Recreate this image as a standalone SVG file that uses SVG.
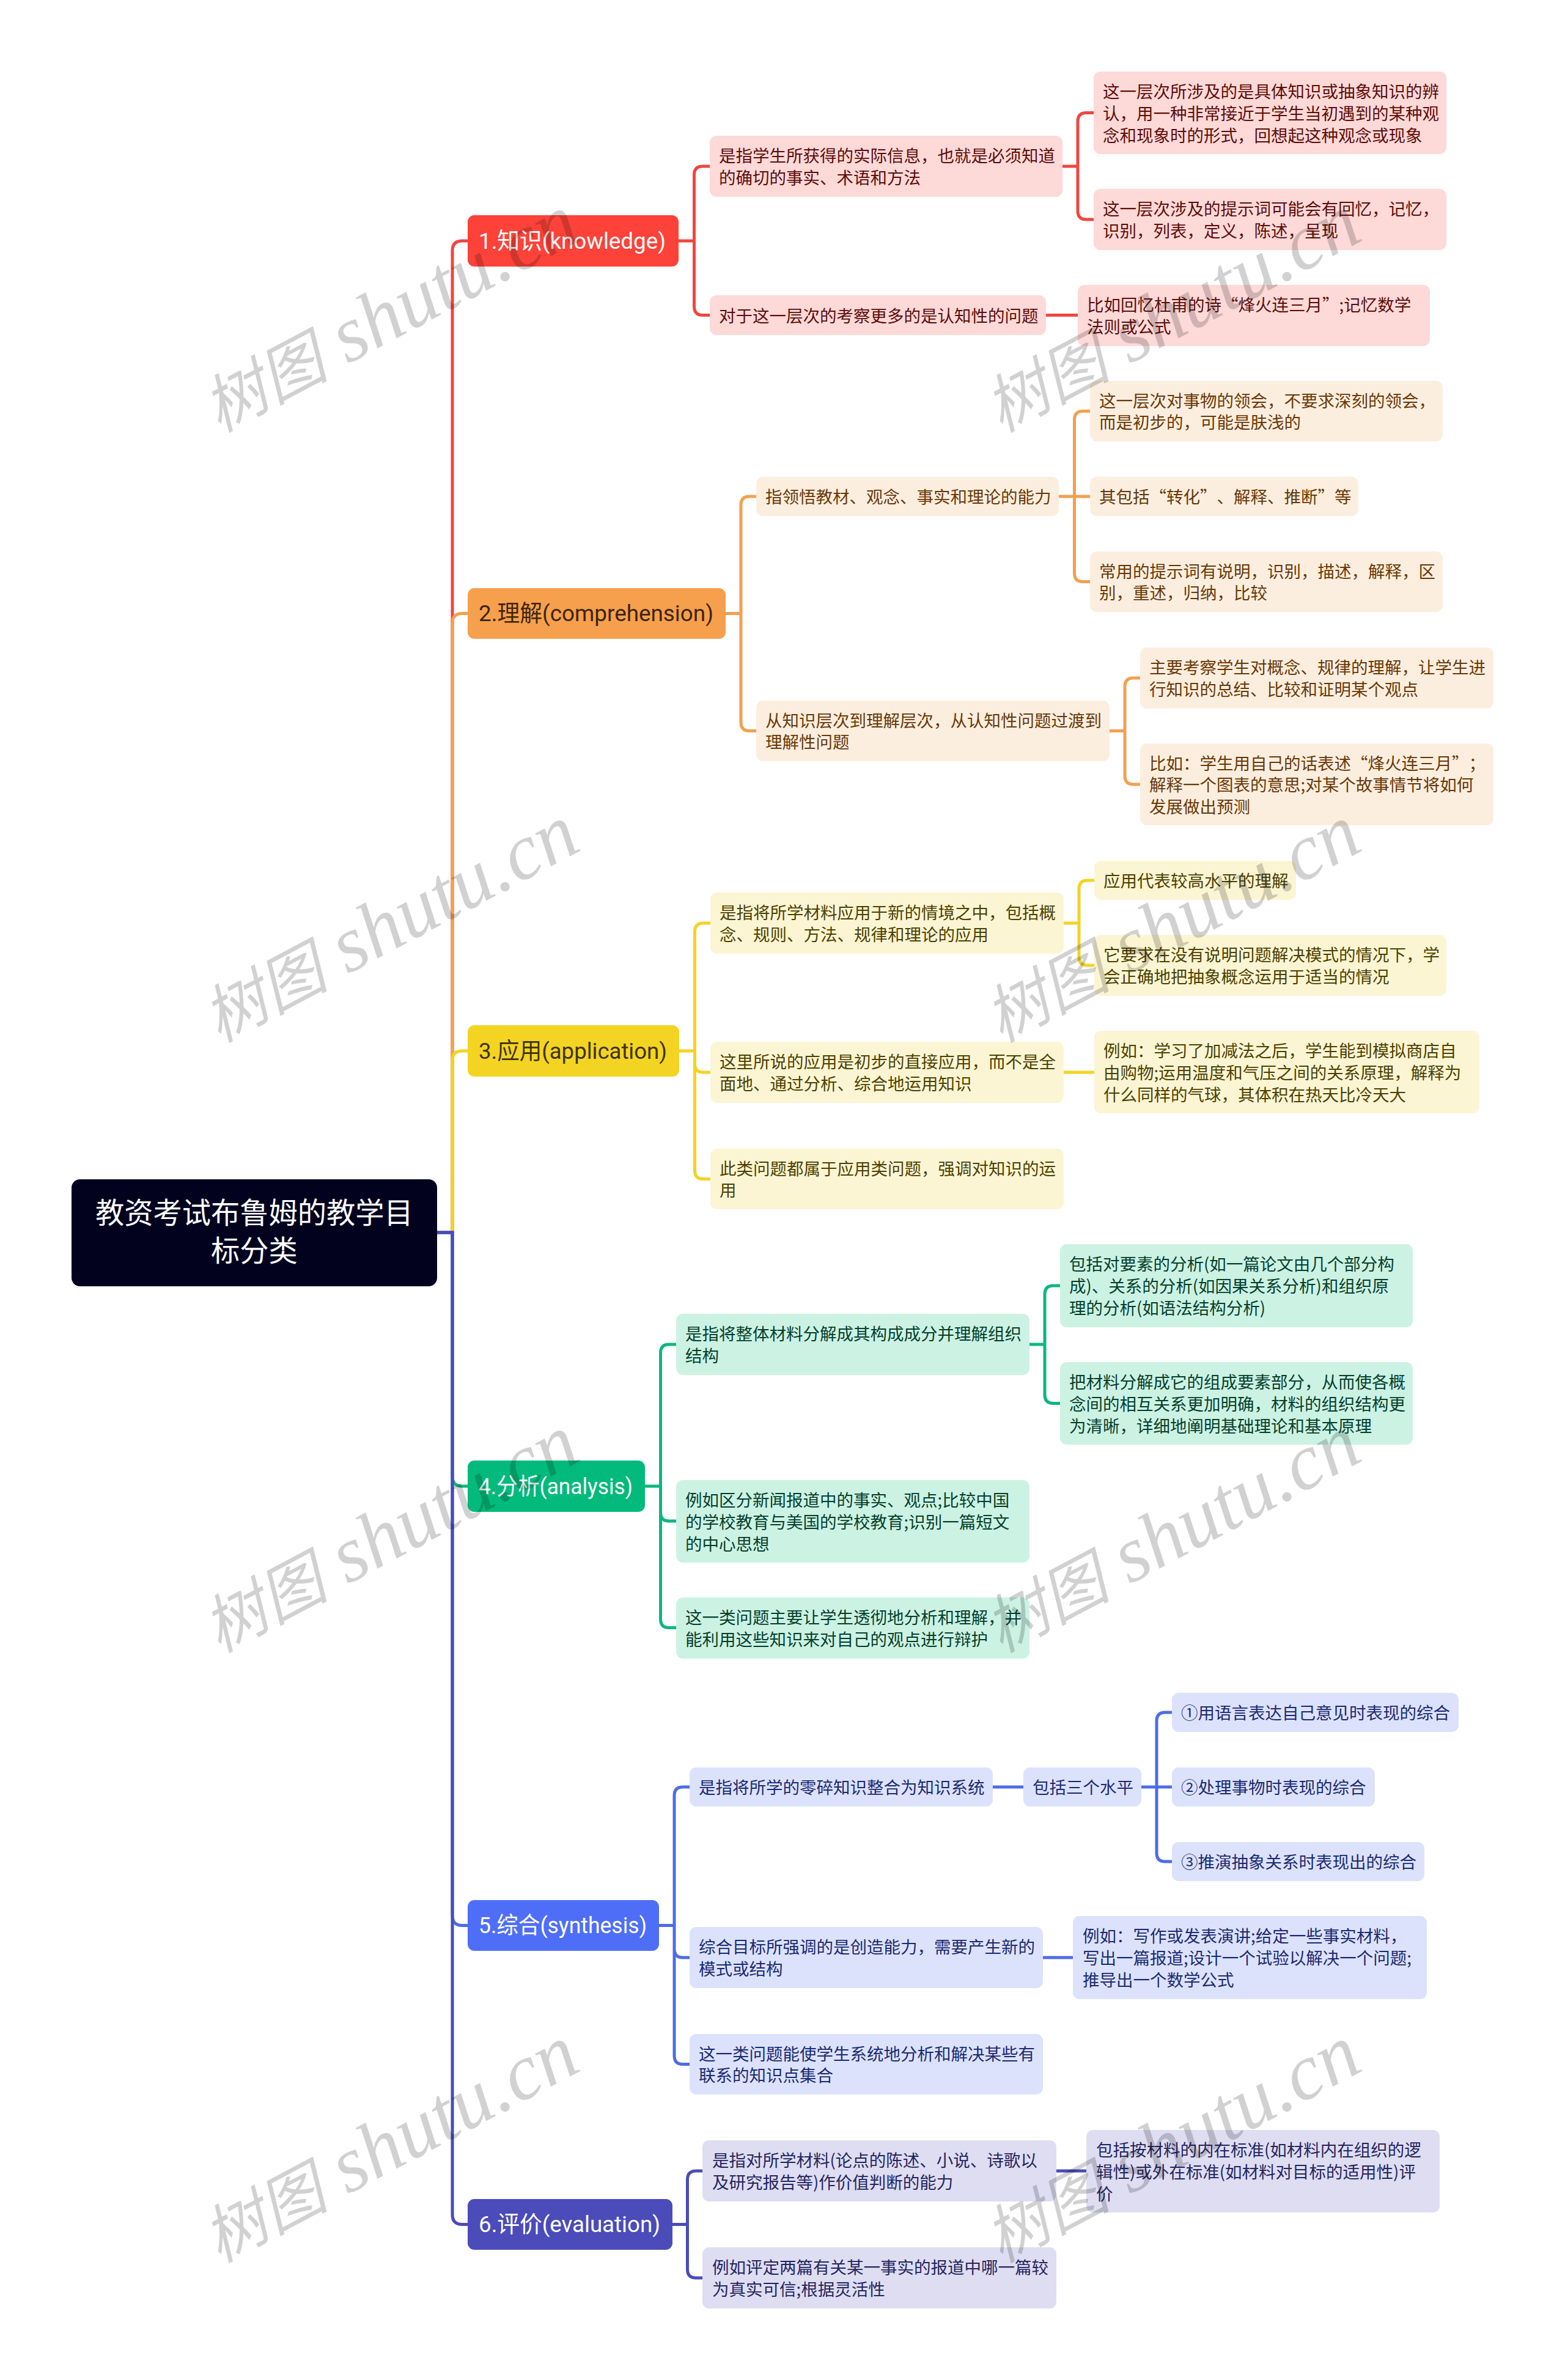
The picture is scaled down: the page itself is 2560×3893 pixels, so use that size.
<svg xmlns="http://www.w3.org/2000/svg" width="2560" height="3893" viewBox="0 0 2560 3893">
<style>
text{font-family:"Noto Sans CJK SC","Noto Sans",sans-serif;font-size:27.5px;text-spacing-trim:space-all}
g[id^="n"] text{transform:translate(0,1px)}
.root{font-size:47.25px;fill:#fff;text-anchor:middle}
g[id^="n"] text.l1{font-size:37.5px;font-family:Roboto,"Noto Sans CJK SC",sans-serif;transform:translate(-1px,-1px)}
rect{rx:11px;ry:11px}
path{fill:none}
.c1{stroke:#EF4640;stroke-width:5}.c2{stroke:#F3A04F;stroke-width:5}.c3{stroke:#F2D323;stroke-width:5}.c4{stroke:#0CB77C;stroke-width:5}.c5{stroke:#4E6CE8;stroke-width:5}.c6{stroke:#4B4BB8;stroke-width:5}
.k1{fill:#FC4239}.k2{fill:#F6A04D}.k3{fill:#F4D422}.k4{fill:#02BA7B}.k5{fill:#4F6EF7}.k6{fill:#4B4BBA}
.f1{fill:#FDD9D8}.f2{fill:#FCEEDF}.f3{fill:#FCF5D3}.f4{fill:#CCF2E4}.f5{fill:#DCE2FB}.f6{fill:#DEDDF2}
.w{fill:#fff}.d2{fill:#3F2509}.d3{fill:#3D3300}
.t1{fill:#5E0D09}.t2{fill:#693806}.t3{fill:#4C4100}.t4{fill:#043F2B}.t5{fill:#1B2A72}.t6{fill:#25255F}
.wm{font-family:"Liberation Serif","Noto Sans CJK SC",serif;font-style:italic;font-size:130px;fill:#000;fill-opacity:.18}
.wm .z{font-family:"Noto Sans CJK SC",serif;font-size:103px}
</style>
<g id="connectors">
<path class="c1" d="M715 2016H740V410Q740 394 756 394H765"/>
<path class="c2" d="M715 2016H740V1019.500Q740 1003.500 756 1003.500H765"/>
<path class="c3" d="M715 2016H740V1735Q740 1719 756 1719H765"/>
<path class="c4" d="M715 2016H740V2415Q740 2431 756 2431H765"/>
<path class="c5" d="M715 2016H740V3133.500Q740 3149.500 756 3149.500H765"/>
<path class="c6" d="M715 2016H740V3622.500Q740 3638.500 756 3638.500H765"/>
<path class="c1" d="M1110 394H1135.500V286Q1135.500 272 1149.500 272H1161M1110 394H1135.500V501.500Q1135.500 515.500 1149.500 515.500H1161M1738 272H1763V198.500Q1763 184.500 1777 184.500H1789M1738 272H1763V345Q1763 359 1777 359H1789M1711 515.500H1763"/>
<path class="c2" d="M1187 1003.500H1212V826Q1212 812 1226 812H1237M1187 1003.500H1212V1181.500Q1212 1195.500 1226 1195.500H1237M1732 812H1757.500V686.500Q1757.500 672.500 1771.500 672.500H1783M1732 812H1783M1732 812H1757.500V937.500Q1757.500 951.500 1771.500 951.500H1783M1815 1195.500H1840V1123Q1840 1109 1854 1109H1865M1815 1195.500H1840V1269Q1840 1283 1854 1283H1865"/>
<path class="c3" d="M1111 1719H1136.500V1524Q1136.500 1510 1150.500 1510H1162M1111 1719H1136.500V1740Q1136.500 1754 1150.500 1754H1162M1111 1719H1136.500V1914.500Q1136.500 1928.500 1150.500 1928.500H1162M1740 1510H1765V1454Q1765 1440 1779 1440H1790M1740 1510H1765V1565Q1765 1579 1779 1579H1790M1740 1754H1790"/>
<path class="c4" d="M1055 2431H1080.500V2213Q1080.500 2199 1094.500 2199H1106M1055 2431H1080.500V2474Q1080.500 2488 1094.500 2488H1106M1055 2431H1080.500V2648.500Q1080.500 2662.500 1094.500 2662.500H1106M1684 2199H1709V2117Q1709 2103 1723 2103H1734M1684 2199H1709V2281.500Q1709 2295.500 1723 2295.500H1734"/>
<path class="c5" d="M1078 3149.500H1103V2937Q1103 2923 1117 2923H1128M1078 3149.500H1103V3188Q1103 3202 1117 3202H1128M1078 3149.500H1103V3362.500Q1103 3376.500 1117 3376.500H1128M1624 2923H1674M1867 2923H1892V2815Q1892 2801 1906 2801H1917M1867 2923H1917M1867 2923H1892V3031Q1892 3045 1906 3045H1917M1706 3202H1755"/>
<path class="c6" d="M1100 3638.500H1124.500V3565Q1124.500 3551 1138.500 3551H1149M1100 3638.500H1124.500V3712Q1124.500 3726 1138.500 3726H1149M1728 3551H1777"/>
</g>
<g id="root"><rect x="117" y="1929" width="598" height="175" fill="#02021F" style="rx:14px;ry:14px"/><text class="root"><tspan x="416" y="2001">教资考试布鲁姆的教学目</tspan><tspan x="416" y="2063">标分类</tspan></text></g>

<g id="n1"><rect class="k1" x="765" y="352" width="345" height="84"/><text class="l1 w" x="784" y="408" textLength="306" lengthAdjust="spacingAndGlyphs">1.知识(knowledge)</text></g>
<g id="n1a"><rect class="f1" x="1161" y="222" width="577" height="100"/><text class="t1"><tspan x="1176" y="264">是指学生所获得的实际信息，也就是必须知道</tspan><tspan x="1176" y="300">的确切的事实、术语和方法</tspan></text></g>
<g id="n1a1"><rect class="f1" x="1789" y="117" width="577" height="135"/><text class="t1"><tspan x="1804" y="159">这一层次所涉及的是具体知识或抽象知识的辨</tspan><tspan x="1804" y="195">认，用一种非常接近于学生当初遇到的某种观</tspan><tspan x="1804" y="231">念和现象时的形式，回想起这种观念或现象</tspan></text></g>
<g id="n1a2"><rect class="f1" x="1789" y="309" width="577" height="100"/><text class="t1"><tspan x="1804" y="351">这一层次涉及的提示词可能会有回忆，记忆，</tspan><tspan x="1804" y="387">识别，列表，定义，陈述，呈现</tspan></text></g>
<g id="n1b"><rect class="f1" x="1161" y="483" width="550" height="65"/><text class="t1" x="1176" y="526">对于这一层次的考察更多的是认知性的问题</text></g>
<g id="n1b1"><rect class="f1" x="1763" y="466" width="576" height="100"/><text class="t1"><tspan x="1778" y="508">比如回忆杜甫的诗“烽火连三月”;记忆数学</tspan><tspan x="1778" y="544">法则或公式</tspan></text></g>

<g id="n2"><rect class="k2" x="765" y="962" width="422" height="83"/><text class="l1 d2" x="784" y="1017" textLength="384" lengthAdjust="spacingAndGlyphs">2.理解(comprehension)</text></g>
<g id="n2a"><rect class="f2" x="1237" y="780" width="495" height="64"/><text class="t2" x="1252" y="822">指领悟教材、观念、事实和理论的能力</text></g>
<g id="n2a1"><rect class="f2" x="1783" y="623" width="577" height="99"/><text class="t2"><tspan x="1798" y="665">这一层次对事物的领会，不要求深刻的领会，</tspan><tspan x="1798" y="700">而是初步的，可能是肤浅的</tspan></text></g>
<g id="n2a2"><rect class="f2" x="1783" y="780" width="439" height="64"/><text class="t2" x="1798" y="822">其包括“转化”、解释、推断”等</text></g>
<g id="n2a3"><rect class="f2" x="1783" y="902" width="577" height="99"/><text class="t2"><tspan x="1798" y="944">常用的提示词有说明，识别，描述，解释，区</tspan><tspan x="1798" y="979">别，重述，归纳，比较</tspan></text></g>
<g id="n2b"><rect class="f2" x="1237" y="1146" width="578" height="99"/><text class="t2"><tspan x="1252" y="1188">从知识层次到理解层次，从认知性问题过渡到</tspan><tspan x="1252" y="1223">理解性问题</tspan></text></g>
<g id="n2b1"><rect class="f2" x="1865" y="1059" width="578" height="100"/><text class="t2"><tspan x="1880" y="1101">主要考察学生对概念、规律的理解，让学生进</tspan><tspan x="1880" y="1137">行知识的总结、比较和证明某个观点</tspan></text></g>
<g id="n2b2"><rect class="f2" x="1865" y="1216" width="578" height="134"/><text class="t2"><tspan x="1880" y="1258">比如：学生用自己的话表述“烽火连三月”；</tspan><tspan x="1880" y="1293">解释一个图表的意思;对某个故事情节将如何</tspan><tspan x="1880" y="1329">发展做出预测</tspan></text></g>

<g id="n3"><rect class="k3" x="765" y="1677" width="346" height="84"/><text class="l1 d3" x="784" y="1733" textLength="308" lengthAdjust="spacingAndGlyphs">3.应用(application)</text></g>
<g id="n3a"><rect class="f3" x="1162" y="1460" width="578" height="100"/><text class="t3"><tspan x="1177" y="1502">是指将所学材料应用于新的情境之中，包括概</tspan><tspan x="1177" y="1538">念、规则、方法、规律和理论的应用</tspan></text></g>
<g id="n3a1"><rect class="f3" x="1790" y="1408" width="330" height="64"/><text class="t3" x="1805" y="1450">应用代表较高水平的理解</text></g>
<g id="n3a2"><rect class="f3" x="1790" y="1529" width="576" height="100"/><text class="t3"><tspan x="1805" y="1571">它要求在没有说明问题解决模式的情况下，学</tspan><tspan x="1805" y="1607">会正确地把抽象概念运用于适当的情况</tspan></text></g>
<g id="n3b"><rect class="f3" x="1162" y="1704" width="578" height="100"/><text class="t3"><tspan x="1177" y="1746">这里所说的应用是初步的直接应用，而不是全</tspan><tspan x="1177" y="1782">面地、通过分析、综合地运用知识</tspan></text></g>
<g id="n3b1"><rect class="f3" x="1790" y="1686" width="630" height="135"/><text class="t3"><tspan x="1805" y="1728">例如：学习了加减法之后，学生能到模拟商店自</tspan><tspan x="1805" y="1764">由购物;运用温度和气压之间的关系原理，解释为</tspan><tspan x="1805" y="1800">什么同样的气球，其体积在热天比冷天大</tspan></text></g>
<g id="n3c"><rect class="f3" x="1162" y="1879" width="578" height="99"/><text class="t3"><tspan x="1177" y="1921">此类问题都属于应用类问题，强调对知识的运</tspan><tspan x="1177" y="1956">用</tspan></text></g>

<g id="n4"><rect class="k4" x="765" y="2389" width="290" height="84"/><text class="l1 w" x="784" y="2445" textLength="252" lengthAdjust="spacingAndGlyphs">4.分析(analysis)</text></g>
<g id="n4a"><rect class="f4" x="1106" y="2149" width="578" height="100"/><text class="t4"><tspan x="1121" y="2191">是指将整体材料分解成其构成成分并理解组织</tspan><tspan x="1121" y="2227">结构</tspan></text></g>
<g id="n4a1"><rect class="f4" x="1734" y="2035" width="577" height="136"/><text class="t4"><tspan x="1749" y="2077">包括对要素的分析(如一篇论文由几个部分构</tspan><tspan x="1749" y="2113">成)、关系的分析(如因果关系分析)和组织原</tspan><tspan x="1749" y="2149">理的分析(如语法结构分析)</tspan></text></g>
<g id="n4a2"><rect class="f4" x="1734" y="2228" width="577" height="135"/><text class="t4"><tspan x="1749" y="2270">把材料分解成它的组成要素部分，从而使各概</tspan><tspan x="1749" y="2306">念间的相互关系更加明确，材料的组织结构更</tspan><tspan x="1749" y="2342">为清晰，详细地阐明基础理论和基本原理</tspan></text></g>
<g id="n4b"><rect class="f4" x="1106" y="2421" width="578" height="135"/><text class="t4"><tspan x="1121" y="2463">例如区分新闻报道中的事实、观点;比较中国</tspan><tspan x="1121" y="2499">的学校教育与美国的学校教育;识别一篇短文</tspan><tspan x="1121" y="2535">的中心思想</tspan></text></g>
<g id="n4c"><rect class="f4" x="1106" y="2613" width="578" height="100"/><text class="t4"><tspan x="1121" y="2655">这一类问题主要让学生透彻地分析和理解，并</tspan><tspan x="1121" y="2691">能利用这些知识来对自己的观点进行辩护</tspan></text></g>

<g id="n5"><rect class="k5" x="765" y="3108" width="313" height="83"/><text class="l1 w" x="784" y="3163" textLength="275" lengthAdjust="spacingAndGlyphs">5.综合(synthesis)</text></g>
<g id="n5a"><rect class="f5" x="1128" y="2891" width="496" height="64"/><text class="t5" x="1143" y="2933">是指将所学的零碎知识整合为知识系统</text></g>
<g id="n5a0"><rect class="f5" x="1674" y="2891" width="193" height="64"/><text class="t5" x="1689" y="2933">包括三个水平</text></g>
<g id="n5a1"><rect class="f5" x="1917" y="2769" width="469" height="64"/><text class="t5" x="1932" y="2811">①用语言表达自己意见时表现的综合</text></g>
<g id="n5a2"><rect class="f5" x="1917" y="2891" width="332" height="64"/><text class="t5" x="1932" y="2933">②处理事物时表现的综合</text></g>
<g id="n5a3"><rect class="f5" x="1917" y="3013" width="413" height="64"/><text class="t5" x="1932" y="3055">③推演抽象关系时表现出的综合</text></g>
<g id="n5b"><rect class="f5" x="1128" y="3152" width="578" height="100"/><text class="t5"><tspan x="1143" y="3194">综合目标所强调的是创造能力，需要产生新的</tspan><tspan x="1143" y="3230">模式或结构</tspan></text></g>
<g id="n5b1"><rect class="f5" x="1755" y="3134" width="579" height="136"/><text class="t5"><tspan x="1771" y="3176">例如：写作或发表演讲;给定一些事实材料，</tspan><tspan x="1771" y="3212">写出一篇报道;设计一个试验以解决一个问题;</tspan><tspan x="1771" y="3248">推导出一个数学公式</tspan></text></g>
<g id="n5c"><rect class="f5" x="1128" y="3327" width="578" height="99"/><text class="t5"><tspan x="1143" y="3369">这一类问题能使学生系统地分析和解决某些有</tspan><tspan x="1143" y="3404">联系的知识点集合</tspan></text></g>

<g id="n6"><rect class="k6" x="765" y="3597" width="335" height="83"/><text class="l1 w" x="784" y="3652" textLength="297" lengthAdjust="spacingAndGlyphs">6.评价(evaluation)</text></g>
<g id="n6a"><rect class="f6" x="1149" y="3501" width="579" height="100"/><text class="t6"><tspan x="1165" y="3543">是指对所学材料(论点的陈述、小说、诗歌以</tspan><tspan x="1165" y="3579">及研究报告等)作价值判断的能力</tspan></text></g>
<g id="n6a1"><rect class="f6" x="1777" y="3484" width="578" height="135"/><text class="t6"><tspan x="1793" y="3526">包括按材料的内在标准(如材料内在组织的逻</tspan><tspan x="1793" y="3562">辑性)或外在标准(如材料对目标的适用性)评</tspan><tspan x="1793" y="3598">价</tspan></text></g>
<g id="n6b"><rect class="f6" x="1149" y="3676" width="579" height="100"/><text class="t6"><tspan x="1165" y="3718">例如评定两篇有关某一事实的报道中哪一篇较</tspan><tspan x="1165" y="3754">为真实可信;根据灵活性</tspan></text></g>

<g id="watermarks">
<text class="wm" transform="translate(358 708) rotate(-28)"><tspan class="z">树图</tspan> shutu.cn</text>
<text class="wm" transform="translate(1637 708) rotate(-28)"><tspan class="z">树图</tspan> shutu.cn</text>
<text class="wm" transform="translate(358 1706) rotate(-28)"><tspan class="z">树图</tspan> shutu.cn</text>
<text class="wm" transform="translate(1637 1706) rotate(-28)"><tspan class="z">树图</tspan> shutu.cn</text>
<text class="wm" transform="translate(358 2704) rotate(-28)"><tspan class="z">树图</tspan> shutu.cn</text>
<text class="wm" transform="translate(1637 2704) rotate(-28)"><tspan class="z">树图</tspan> shutu.cn</text>
<text class="wm" transform="translate(358 3702) rotate(-28)"><tspan class="z">树图</tspan> shutu.cn</text>
<text class="wm" transform="translate(1637 3702) rotate(-28)"><tspan class="z">树图</tspan> shutu.cn</text>
</g>
</svg>
